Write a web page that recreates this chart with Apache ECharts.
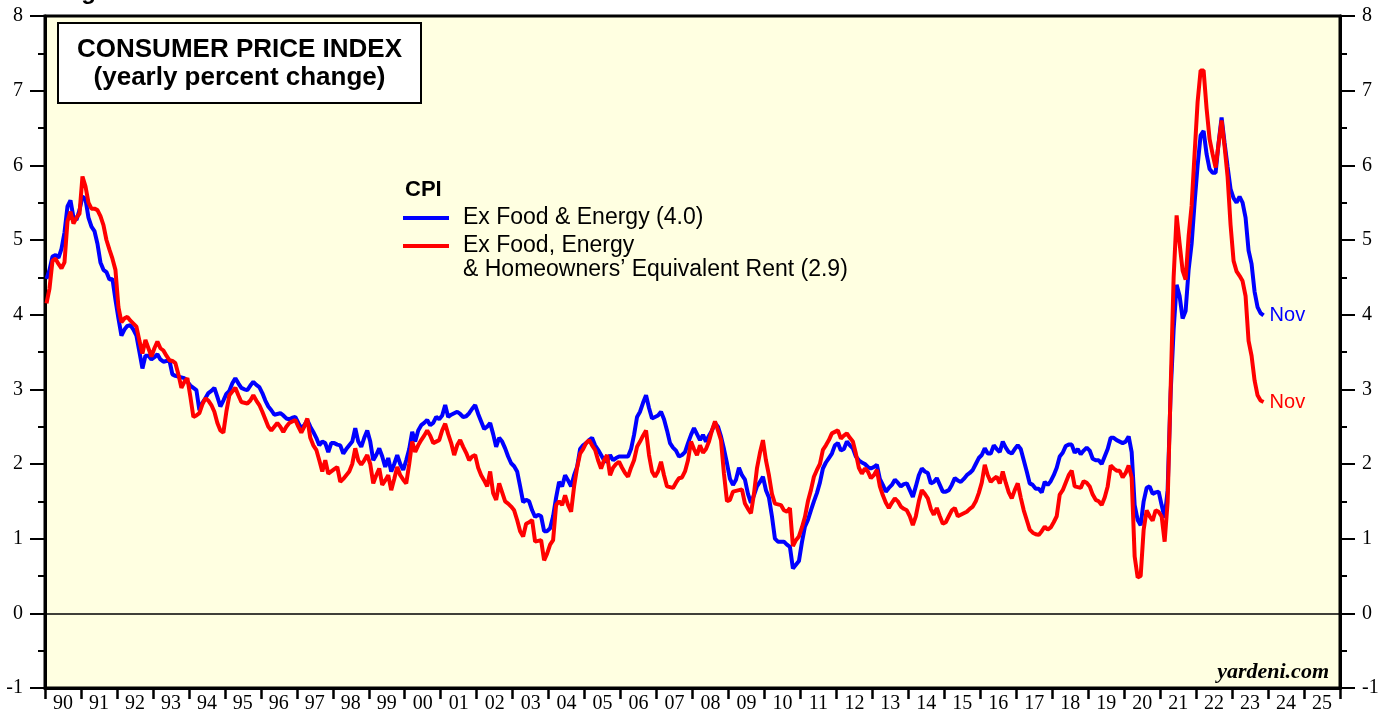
<!DOCTYPE html>
<html>
<head>
<meta charset="utf-8">
<script src="https://cdn.jsdelivr.net/npm/echarts@6/dist/echarts.min.js"></script>
<style>
html, body { margin: 0; padding: 0; background: #fff; }
#chart { width: 1392px; height: 719px; }
</style>
</head>
<body>
<div id="chart"></div>
<script>
// monthly data, Jan 1990 .. Nov 2023 (yearly % change)
var yearLabels = ['90','91','92','93','94','95','96','97','98','99','00','01','02','03','04','05','06','07',
                  '08','09','10','11','12','13','14','15','16','17','18','19','20','21','22','23','24','25'];

// CPI ex food & energy
var coreCpi = [
  4.48,4.6,4.78,4.8,4.76,4.88,5.1,5.45,5.53,5.3,5.27,5.4,
  5.58,5.55,5.3,5.18,5.12,4.95,4.7,4.6,4.57,4.47,4.48,4.2,
  3.95,3.72,3.8,3.85,3.86,3.8,3.72,3.5,3.28,3.45,3.45,3.4,
  3.43,3.47,3.4,3.37,3.38,3.39,3.2,3.18,3.17,3.16,3.15,3.1,
  3.05,3.02,2.99,2.72,2.82,2.88,2.95,2.98,3.02,2.9,2.77,2.85,
  2.94,2.98,3.08,3.15,3.08,3.02,3.0,2.99,3.05,3.1,3.06,3.03,
  2.95,2.85,2.77,2.72,2.66,2.67,2.68,2.65,2.61,2.6,2.62,2.63,
  2.55,2.48,2.52,2.59,2.5,2.43,2.35,2.25,2.3,2.28,2.16,2.28,
  2.28,2.26,2.25,2.14,2.2,2.25,2.3,2.48,2.3,2.23,2.35,2.45,
  2.3,2.05,2.12,2.21,2.1,1.96,2.08,1.9,2.0,2.12,2.0,1.92,
  2.05,2.2,2.43,2.3,2.45,2.52,2.55,2.59,2.52,2.55,2.63,2.6,
  2.65,2.79,2.63,2.66,2.68,2.7,2.67,2.63,2.64,2.68,2.74,2.79,
  2.67,2.57,2.47,2.5,2.55,2.4,2.23,2.35,2.3,2.21,2.1,2.01,
  1.97,1.9,1.7,1.49,1.52,1.5,1.38,1.29,1.32,1.3,1.1,1.1,
  1.14,1.3,1.55,1.76,1.7,1.85,1.78,1.7,1.85,1.96,2.2,2.25,
  2.28,2.32,2.35,2.25,2.19,2.12,2.05,2.03,2.12,2.05,2.08,2.1,
  2.1,2.1,2.1,2.2,2.39,2.63,2.7,2.82,2.92,2.75,2.61,2.63,
  2.65,2.7,2.6,2.45,2.28,2.22,2.18,2.1,2.12,2.16,2.28,2.39,
  2.48,2.4,2.32,2.39,2.3,2.38,2.45,2.55,2.5,2.37,2.2,2.01,
  1.8,1.72,1.79,1.95,1.85,1.79,1.6,1.48,1.58,1.7,1.76,1.83,
  1.65,1.55,1.3,1.0,0.96,0.96,0.96,0.92,0.89,0.6,0.65,0.7,
  0.95,1.16,1.25,1.38,1.5,1.61,1.75,1.94,2.02,2.08,2.14,2.25,
  2.28,2.18,2.2,2.3,2.25,2.21,2.1,2.05,2.02,2.0,1.96,1.94,
  1.96,1.99,1.8,1.72,1.63,1.68,1.72,1.79,1.75,1.7,1.73,1.74,
  1.65,1.56,1.7,1.85,1.94,1.9,1.88,1.74,1.76,1.81,1.72,1.63,
  1.63,1.65,1.72,1.81,1.78,1.76,1.8,1.85,1.88,1.92,2.0,2.08,
  2.12,2.21,2.14,2.14,2.25,2.2,2.16,2.3,2.22,2.16,2.14,2.2,
  2.25,2.2,2.05,1.9,1.74,1.72,1.67,1.67,1.62,1.76,1.72,1.77,
  1.85,1.95,2.1,2.15,2.24,2.26,2.26,2.15,2.2,2.13,2.18,2.22,
  2.18,2.07,2.05,2.05,2.0,2.1,2.2,2.35,2.35,2.32,2.3,2.28,
  2.3,2.37,2.16,1.45,1.25,1.18,1.5,1.68,1.7,1.6,1.62,1.63,
  1.45,1.28,1.65,2.95,3.8,4.4,4.25,3.95,4.05,4.6,4.95,5.5,
  6.0,6.4,6.46,6.15,5.95,5.9,5.9,6.3,6.64,6.3,5.98,5.68,
  5.56,5.5,5.58,5.5,5.3,4.86,4.68,4.31,4.1,4.02,3.99
];

// CPI ex food, energy & owners' equivalent rent
var coreExOer = [
  4.15,4.35,4.72,4.75,4.68,4.62,4.7,5.25,5.38,5.22,5.3,5.35,
  5.85,5.72,5.5,5.42,5.42,5.4,5.32,5.2,5.0,4.87,4.75,4.6,
  4.1,3.9,3.95,3.97,3.92,3.88,3.84,3.65,3.48,3.66,3.55,3.44,
  3.55,3.64,3.55,3.52,3.45,3.39,3.38,3.35,3.2,3.02,3.1,3.15,
  2.9,2.63,2.65,2.68,2.8,2.88,2.85,2.79,2.7,2.55,2.45,2.42,
  2.7,2.92,2.97,3.02,2.92,2.83,2.82,2.81,2.85,2.92,2.85,2.79,
  2.7,2.6,2.5,2.45,2.5,2.55,2.5,2.43,2.5,2.55,2.57,2.59,
  2.5,2.42,2.5,2.61,2.35,2.25,2.19,2.05,1.9,2.05,1.87,1.9,
  1.93,1.96,1.76,1.8,1.85,1.9,2.0,2.21,2.05,1.99,2.05,2.12,
  2.0,1.74,1.85,1.94,1.72,1.78,1.85,1.65,1.8,1.96,1.85,1.79,
  1.74,2.0,2.3,2.16,2.25,2.32,2.38,2.45,2.38,2.28,2.3,2.32,
  2.45,2.54,2.4,2.28,2.12,2.25,2.32,2.23,2.15,2.05,2.1,2.12,
  1.95,1.85,1.78,1.7,1.9,1.61,1.52,1.74,1.62,1.5,1.47,1.43,
  1.38,1.25,1.1,1.03,1.2,1.22,1.25,0.96,0.97,0.98,0.71,0.8,
  0.92,0.98,1.45,1.5,1.45,1.58,1.45,1.36,1.7,1.95,2.14,2.2,
  2.28,2.32,2.25,2.19,2.05,1.94,2.05,2.12,1.85,1.95,2.0,2.03,
  1.95,1.88,1.83,1.95,2.05,2.23,2.3,2.38,2.45,2.12,1.9,1.83,
  1.9,2.03,1.85,1.7,1.69,1.68,1.75,1.81,1.82,1.9,2.05,2.3,
  2.2,2.12,2.25,2.15,2.2,2.3,2.45,2.57,2.45,2.32,1.87,1.5,
  1.52,1.63,1.64,1.65,1.66,1.47,1.4,1.34,1.6,1.94,2.15,2.32,
  2.05,1.85,1.6,1.47,1.46,1.45,1.38,1.36,1.41,0.9,0.98,1.03,
  1.15,1.29,1.5,1.65,1.83,1.92,2.0,2.19,2.25,2.32,2.41,2.43,
  2.45,2.34,2.38,2.41,2.35,2.3,2.14,1.95,1.87,1.94,1.9,1.81,
  1.85,1.92,1.7,1.58,1.48,1.41,1.48,1.54,1.5,1.43,1.4,1.38,
  1.3,1.18,1.3,1.5,1.65,1.6,1.54,1.4,1.32,1.41,1.3,1.2,
  1.22,1.3,1.38,1.41,1.3,1.32,1.34,1.36,1.4,1.43,1.5,1.61,
  1.75,1.99,1.85,1.76,1.8,1.83,1.74,1.9,1.75,1.62,1.54,1.65,
  1.74,1.55,1.38,1.25,1.12,1.08,1.06,1.05,1.1,1.16,1.12,1.15,
  1.22,1.3,1.59,1.65,1.75,1.85,1.91,1.7,1.69,1.68,1.77,1.75,
  1.7,1.59,1.52,1.5,1.45,1.55,1.7,1.98,1.94,1.91,1.91,1.82,
  1.88,1.98,1.82,0.76,0.48,0.5,1.12,1.38,1.3,1.24,1.38,1.36,
  1.3,0.96,1.49,3.0,4.5,5.33,4.95,4.59,4.47,5.05,5.46,6.16,
  6.85,7.27,7.27,6.76,6.35,6.15,5.97,6.29,6.6,6.25,5.85,5.2,
  4.72,4.58,4.52,4.45,4.25,3.65,3.45,3.12,2.92,2.85,2.83
];

// x position = months since Jan 1990, point sits mid-month
function toPoints(arr) {
    return arr.map(function (v, i) { return [i + 0.5, v]; });
}

var serifFont = 'Liberation Serif';
var sansFont = 'Liberation Sans';

var myChart = echarts.init(document.getElementById('chart'));

function yAxisDef(pos) {
    return {
        type: 'value',
        position: pos,
        min: -1,
        max: 8,
        interval: 1,
        axisLine: { show: true, onZero: false, lineStyle: { color: '#000', width: 3 } },
        axisTick: { show: true, length: 15, lineStyle: { color: '#000', width: 2 } },
        minorTick: { show: true, splitNumber: 2, length: 7, lineStyle: { color: '#000', width: 2 } },
        axisLabel: { margin: 22, color: '#000', fontFamily: serifFont, fontSize: 20 },
        splitLine: { show: false }
    };
}

var option = {
    animation: false,
    backgroundColor: '#ffffff',
    grid: {
        left: 45,
        right: 52,
        top: 16,
        bottom: 31,
        show: true,
        backgroundColor: '#FFFFE1',
        borderColor: '#000',
        borderWidth: 3
    },
    xAxis: [
        {
            type: 'category',
            data: yearLabels,
            boundaryGap: true,
            position: 'bottom',
            axisLine: { show: true, onZero: false, lineStyle: { color: '#000', width: 3 } },
            axisTick: { show: true, interval: 0, length: 11, lineStyle: { color: '#000', width: 2.5 } },
            axisLabel: { interval: 0, margin: 6, color: '#000', fontFamily: serifFont, fontSize: 20 },
            splitLine: { show: false }
        },
        {
            type: 'value',
            min: 0,
            max: yearLabels.length * 12,
            show: false
        }
    ],
    yAxis: [yAxisDef('left'), yAxisDef('right')],
    series: [
        {
            name: 'Ex Food & Energy',
            type: 'line',
            xAxisIndex: 1,
            yAxisIndex: 0,
            data: toPoints(coreCpi),
            showSymbol: false,
            lineStyle: { color: '#0000FF', width: 4 },
            itemStyle: { color: '#0000FF' },
            endLabel: { show: true, formatter: 'Nov', color: '#0000FF', fontFamily: sansFont, fontSize: 20, distance: 6 },
            markLine: {
                silent: true,
                symbol: ['none', 'none'],
                label: { show: false },
                lineStyle: { color: '#000', width: 1.5, type: 'solid' },
                data: [{ yAxis: 0 }]
            }
        },
        {
            name: 'Ex Food, Energy & OER',
            type: 'line',
            xAxisIndex: 1,
            yAxisIndex: 0,
            data: toPoints(coreExOer),
            showSymbol: false,
            lineStyle: { color: '#FF0000', width: 4 },
            itemStyle: { color: '#FF0000' },
            endLabel: { show: true, formatter: 'Nov', color: '#FF0000', fontFamily: sansFont, fontSize: 20, distance: 6 }
        }
    ],
    graphic: [
        {
            type: 'text',
            left: 60, top: -20,
            style: { text: 'Figure 1.', font: 'bold 24px "Liberation Sans"', fill: '#000' }
        },
        {
            type: 'rect',
            shape: { x: 58, y: 23, width: 363, height: 80 },
            style: { fill: '#fff', stroke: '#000', lineWidth: 2 }
        },
        {
            type: 'text',
            style: { text: 'CONSUMER PRICE INDEX', x: 239.5, y: 50, textAlign: 'center', textVerticalAlign: 'middle',
                     font: 'bold 26px "Liberation Sans"', fill: '#000' }
        },
        {
            type: 'text',
            style: { text: '(yearly percent change)', x: 239.5, y: 78, textAlign: 'center', textVerticalAlign: 'middle',
                     font: 'bold 26px "Liberation Sans"', fill: '#000' }
        },
        {
            type: 'text',
            style: { text: 'CPI', x: 405, y: 190, textAlign: 'left', textVerticalAlign: 'middle',
                     font: 'bold 22px "Liberation Sans"', fill: '#000' }
        },
        {
            type: 'line',
            shape: { x1: 403, y1: 218, x2: 449, y2: 218 },
            style: { stroke: '#0000FF', lineWidth: 4 }
        },
        {
            type: 'text',
            style: { text: 'Ex Food & Energy (4.0)', x: 463, y: 218, textAlign: 'left', textVerticalAlign: 'middle',
                     font: '23px "Liberation Sans"', fill: '#000' }
        },
        {
            type: 'line',
            shape: { x1: 403, y1: 246, x2: 449, y2: 246 },
            style: { stroke: '#FF0000', lineWidth: 4 }
        },
        {
            type: 'text',
            style: { text: 'Ex Food, Energy', x: 463, y: 246, textAlign: 'left', textVerticalAlign: 'middle',
                     font: '23px "Liberation Sans"', fill: '#000' }
        },
        {
            type: 'text',
            style: { text: '& Homeowners\u2019 Equivalent Rent (2.9)', x: 463, y: 270, textAlign: 'left', textVerticalAlign: 'middle',
                     font: '23px "Liberation Sans"', fill: '#000' }
        },
        {
            type: 'text',
            style: { text: 'yardeni.com', x: 1329, y: 672, textAlign: 'right', textVerticalAlign: 'middle',
                     font: 'italic bold 22px "Liberation Serif"', fill: '#000' }
        }
    ]
};

myChart.setOption(option);
</script>
</body>
</html>
